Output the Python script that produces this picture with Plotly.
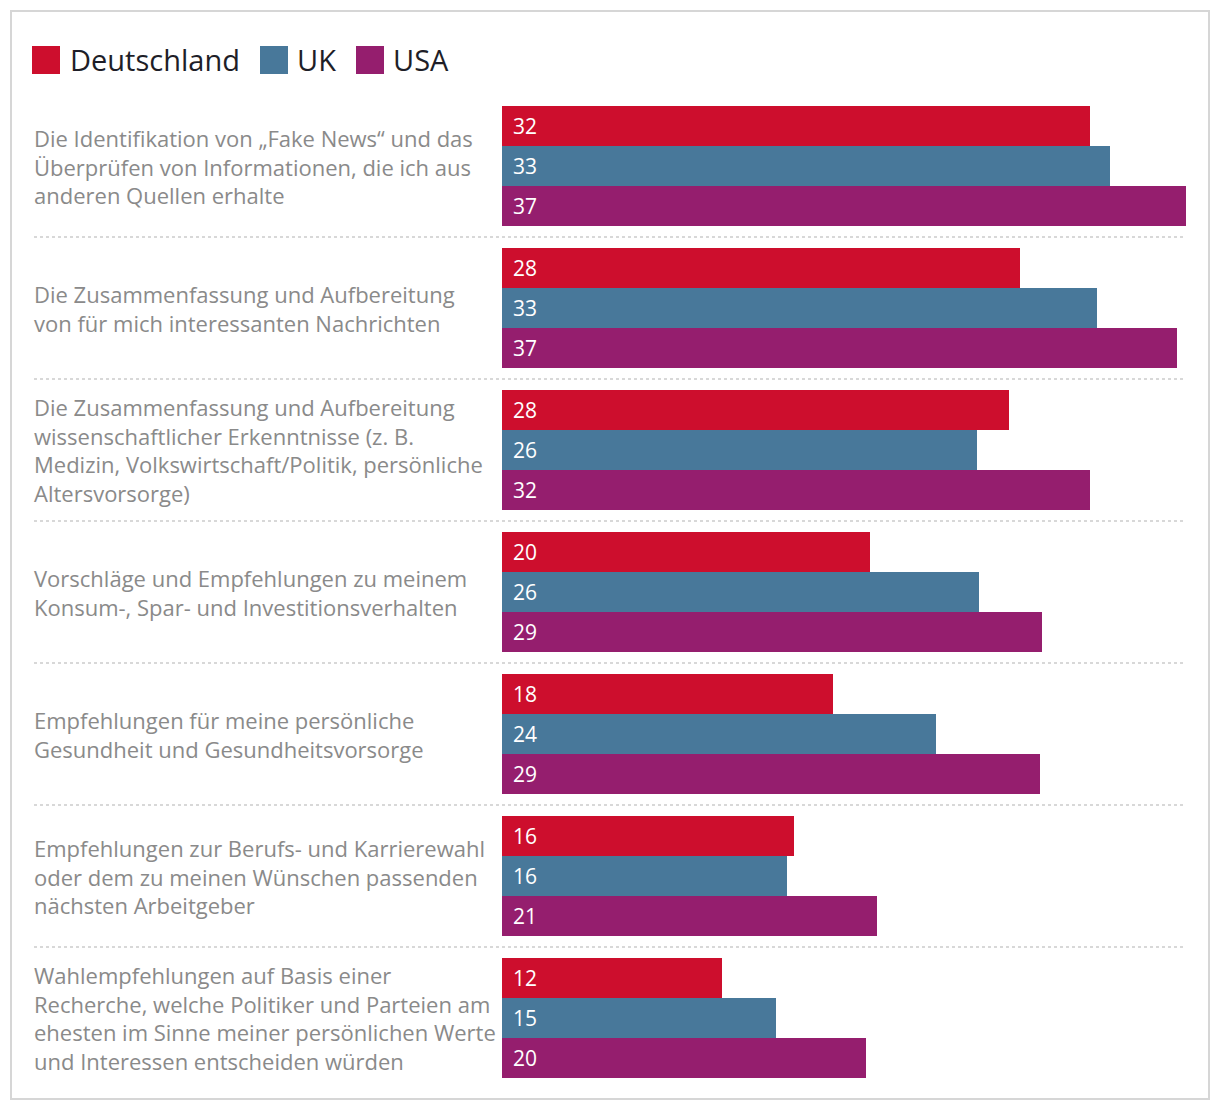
import plotly.graph_objects as go

categories = [
    "Die Identifikation von „Fake News“ und das<br>Überprüfen von Informationen, die ich aus<br>anderen Quellen erhalte",
    "Die Zusammenfassung und Aufbereitung<br>von für mich interessanten Nachrichten",
    "Die Zusammenfassung und Aufbereitung<br>wissenschaftlicher Erkenntnisse (z. B.<br>Medizin, Volkswirtschaft/Politik, persönliche<br>Altersvorsorge)",
    "Vorschläge und Empfehlungen zu meinem<br>Konsum-, Spar- und Investitionsverhalten",
    "Empfehlungen für meine persönliche<br>Gesundheit und Gesundheitsvorsorge",
    "Empfehlungen zur Berufs- und Karrierewahl<br>oder dem zu meinen Wünschen passenden<br>nächsten Arbeitgeber",
    "Wahlempfehlungen auf Basis einer<br>Recherche, welche Politiker und Parteien am<br>ehesten im Sinne meiner persönlichen Werte<br>und Interessen entscheiden würden",
]
series_names = ["Deutschland", "UK", "USA"]
colors = ["#CD0E2D", "#48789A", "#951E6E"]

# bar lengths
deutschland = [31.8, 28.0, 27.4, 19.9, 17.9, 15.8, 11.9]
uk = [32.9, 32.2, 25.7, 25.8, 23.5, 15.4, 14.8]
usa = [37.0, 36.5, 31.8, 29.2, 29.1, 20.3, 19.7]
# printed labels
deutschland_lbl = [32, 28, 28, 20, 18, 16, 12]
uk_lbl = [33, 33, 26, 26, 24, 16, 15]
usa_lbl = [37, 37, 32, 29, 29, 21, 20]

values = [deutschland, uk, usa]
labels = [deutschland_lbl, uk_lbl, usa_lbl]

W, H = 1220, 1112
L, R, T, B = 502, 34, 106, 34
GROUP = 3.55
XMAX = 37.0
FONT = "Open Sans"

def px(x):
    return (x - L) / (W - L - R)

def py(y):
    return (H - B - y) / (H - T - B)

fig = go.Figure()
annotations = []
for j, (name, vals, lbls, col) in enumerate(zip(series_names, values, labels, colors)):
    ys = [i * GROUP + j for i in range(len(categories))]
    fig.add_trace(go.Bar(
        x=vals, y=ys, orientation="h", width=1.0, marker=dict(color=col, line=dict(width=0)),
        name=name, showlegend=False, hoverinfo="skip",
    ))
    for v, lb, yy in zip(vals, lbls, ys):
        annotations.append(dict(x=0, y=yy, xref="x", yref="y", text=str(lb), showarrow=False,
                                xanchor="left", yanchor="middle", xshift=9,
                                font=dict(family=FONT, size=21, color="white")))

for i, cat in enumerate(categories):
    annotations.append(dict(x=px(32), y=i * GROUP + 1, xref="paper", yref="y", text=cat,
                            showarrow=False, xanchor="left", yanchor="middle", align="left",
                            font=dict(family=FONT, size=22, color="#8a8a8a")))

shapes = []
# separators
for i in range(len(categories) - 1):
    yy = i * GROUP + 2.775
    shapes.append(dict(type="line", xref="paper", yref="y", x0=px(34), x1=px(1186), y0=yy, y1=yy,
                       line=dict(color="#cccccc", width=1.5, dash="dot")))
# border
shapes.append(dict(type="rect", xref="paper", yref="paper", x0=px(11), x1=px(1209), y0=py(1099), y1=py(11),
                   line=dict(color="#d6d6d6", width=2), fillcolor="rgba(0,0,0,0)"))
# legend
legend_pos = [(32, 68), (260, 295), (356, 391)]
for (sx, tx), name, col in zip(legend_pos, series_names, colors):
    shapes.append(dict(type="rect", xref="paper", yref="paper", x0=px(sx), x1=px(sx + 28),
                       y0=py(74), y1=py(46), fillcolor=col, line=dict(width=0)))
    annotations.append(dict(x=px(tx), y=py(60), xref="paper", yref="paper", text=name, showarrow=False,
                            xanchor="left", yanchor="middle",
                            font=dict(family=FONT, size=29, color="#1e1e28")))

fig.update_layout(
    width=W, height=H, margin=dict(l=L, r=R, t=T, b=B),
    paper_bgcolor="white", plot_bgcolor="white",
    barmode="overlay", bargap=0,
    xaxis=dict(range=[0, XMAX], visible=False, fixedrange=True),
    yaxis=dict(range=[6 * GROUP + 2.5, -0.5], visible=False, fixedrange=True),
    annotations=annotations, shapes=shapes,
)
fig.write_html("out.html")
